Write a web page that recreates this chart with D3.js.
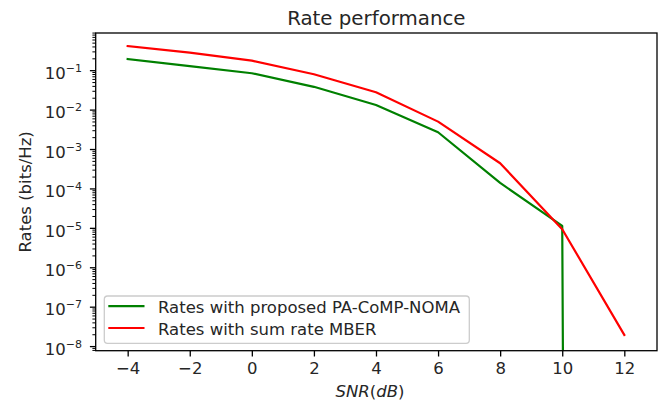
<!DOCTYPE html>
<html>
<head>
<meta charset="utf-8">
<script src="https://cdn.jsdelivr.net/npm/d3@7"></script>
<style>
  body { margin: 0; background: #fff; }
  text { font-family: "DejaVu Sans", sans-serif; fill: #262626; }
</style>
</head>
<body>
<div id="container"></div>
<script>
// values
const snr = [-4, -2, 0, 2, 4, 6, 8, 10, 12];
const ratesProposed = [0.198, 0.131, 0.086, 0.039, 0.0135, 0.00274, 1.42e-4, 1.15e-5, 0];
const ratesMber = [0.42, 0.286, 0.18, 0.081, 0.0283, 0.0051, 4.49e-4, 9.5e-6, 1.98e-8];
const xTicks = [-4, -2, 0, 2, 4, 6, 8, 10, 12];
const yTickExponents = [-8, -7, -6, -5, -4, -3, -2, -1];
const seriesNames = ["Rates with proposed PA-CoMP-NOMA", "Rates with sum rate MBER"];
const seriesColors = ["#008000", "#ff0000"];

function initializeChart() {
    const width = 670, height = 401;
    const plot = { left: 95.7, right: 657, top: 33, bottom: 350.7 };

    let svg = d3.select("#container")
        .append("svg")
        .attr("width", width)
        .attr("height", height);

    svg.append("rect").attr("width", width).attr("height", height).attr("fill", "#fff");

    const xScale = d3.scaleLinear()
        .domain([-5.03, 13.053])
        .range([plot.left, plot.right]);

    const yScale = d3.scaleLog()
        .domain([Math.pow(10, -8.104), Math.pow(10, -0.044)])
        .range([plot.bottom, plot.top]);

    // clip for the lines
    svg.append("clipPath").attr("id", "clip")
        .append("rect")
        .attr("x", plot.left).attr("y", plot.top)
        .attr("width", plot.right - plot.left)
        .attr("height", plot.bottom - plot.top);

    // LINES (non positive values go down off the axes, like matplotlib's clip)
    let line = d3.line()
        .x((d, i) => xScale(snr[i]))
        .y(d => yScale(Math.max(d, 1e-300)));

    [ratesProposed, ratesMber].forEach(function (rates, k) {
        svg.append("path")
            .attr("clip-path", "url(#clip)")
            .attr("fill", "none")
            .attr("stroke", seriesColors[k])
            .attr("stroke-width", 2.2)
            .attr("stroke-linejoin", "round")
            .attr("stroke-linecap", "square")
            .attr("d", line(rates));
    });

    // X AXIS
    let xAxis = svg.append("g")
        .attr("transform", "translate(0," + plot.bottom + ")")
        .call(d3.axisBottom(xScale).tickValues(xTicks).tickSize(5.8).tickPadding(5.5)
            .tickFormat(d3.format("d")));
    xAxis.select(".domain").remove();
    xAxis.selectAll("line").attr("stroke", "#000").attr("stroke-width", 1.3);
    xAxis.selectAll("text")
        .attr("dy", null).attr("y", 23)
        .style("font-family", "DejaVu Sans")
        .style("font-size", "16.5px")
        .attr("fill", "#262626");

    // Y AXIS (log, major + minor)
    let minor = [];
    for (let e = -9; e <= 0; e++) {
        for (let m = 2; m <= 9; m++) {
            let v = m * Math.pow(10, e);
            if (v >= yScale.domain()[0] && v <= yScale.domain()[1]) minor.push(v);
        }
    }
    svg.append("g").selectAll("line")
        .data(minor)
        .enter()
        .append("line")
        .attr("x1", plot.left - 3.3).attr("x2", plot.left)
        .attr("y1", d => yScale(d)).attr("y2", d => yScale(d))
        .attr("stroke", "#000").attr("stroke-width", 1);

    let yMajor = svg.append("g").selectAll("g")
        .data(yTickExponents)
        .enter()
        .append("g")
        .attr("transform", d => "translate(0," + yScale(Math.pow(10, d)) + ")");

    yMajor.append("line")
        .attr("x1", plot.left - 5.8).attr("x2", plot.left)
        .attr("stroke", "#000").attr("stroke-width", 1.3);

    let yLabel = yMajor.append("text")
        .attr("x", 82)
        .attr("y", 8.3)
        .attr("text-anchor", "end")
        .style("font-size", "16.5px");
    yLabel.append("tspan").text("10");
    yLabel.append("tspan")
        .attr("dy", -7)
        .style("font-size", "11px")
        .text(d => "\u2212" + Math.abs(d));

    // FRAME
    svg.append("rect")
        .attr("x", plot.left).attr("y", plot.top)
        .attr("width", plot.right - plot.left)
        .attr("height", plot.bottom - plot.top)
        .attr("fill", "none")
        .attr("stroke", "#000")
        .attr("stroke-width", 1.3);

    // TITLE AND LABELS
    svg.append("text")
        .attr("x", (plot.left + plot.right) / 2)
        .attr("y", 25)
        .attr("text-anchor", "middle")
        .style("font-size", "19.8px")
        .text("Rate performance");

    let xLabel = svg.append("text")
        .attr("x", 370)
        .attr("y", 397)
        .attr("text-anchor", "middle")
        .style("font-size", "16.5px");
    xLabel.append("tspan").style("font-style", "italic").text("SNR");
    xLabel.append("tspan").text("(");
    xLabel.append("tspan").style("font-style", "italic").text("dB");
    xLabel.append("tspan").text(")");

    svg.append("text")
        .attr("transform", "translate(30.5," + (plot.top + plot.bottom) / 2 + ") rotate(-90)")
        .attr("text-anchor", "middle")
        .style("font-size", "16.5px")
        .text("Rates (bits/Hz)");

    // LEGEND
    let legend = svg.append("g");
    legend.append("rect")
        .attr("x", 104.3).attr("y", 296)
        .attr("width", 365).attr("height", 47.3)
        .attr("rx", 3.3)
        .attr("fill", "#fff").attr("fill-opacity", 0.8)
        .attr("stroke", "#cccccc").attr("stroke-width", 1.3);

    let rows = legend.selectAll("g.row")
        .data(seriesNames)
        .enter()
        .append("g")
        .attr("class", "row")
        .attr("transform", (d, i) => "translate(0," + (306.2 + i * 21.8) + ")");

    rows.append("line")
        .attr("x1", 108.3).attr("x2", 144.5)
        .attr("stroke", (d, i) => seriesColors[i])
        .attr("stroke-width", 2.2);

    rows.append("text")
        .attr("x", 158)
        .attr("y", 6.5)
        .style("font-size", "16.5px")
        .text(d => d);
}

initializeChart();
</script>
</body>
</html>
